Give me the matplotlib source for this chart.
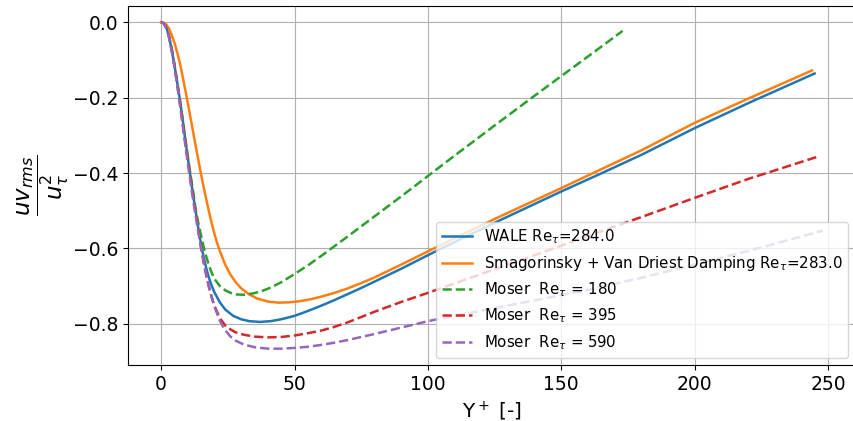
import matplotlib
matplotlib.use("Agg")
import matplotlib.pyplot as plt

# ---- data ----
wale_x = [0, 1, 2, 3, 4, 5, 6, 7, 8, 9, 10, 11, 12, 13, 14, 15, 16, 17, 18, 19, 20,
          22, 24, 27, 30, 33, 37, 41, 45, 50, 55, 60, 65, 70, 75, 80, 90, 100, 110, 125, 150,
          165, 180, 200, 220, 245]
wale_y = [0, -0.003, -0.015, -0.04, -0.075, -0.115, -0.16, -0.205, -0.255, -0.31, -0.36,
          -0.41, -0.46, -0.505, -0.55, -0.59, -0.625, -0.655, -0.68, -0.70, -0.717,
          -0.743, -0.762, -0.779, -0.788, -0.793, -0.795, -0.793, -0.788, -0.779, -0.766,
          -0.752, -0.737, -0.721, -0.705, -0.688, -0.654, -0.618, -0.583, -0.532, -0.449,
          -0.401, -0.352, -0.281, -0.215, -0.136]

smag_x = [0, 1, 2, 3, 4, 5, 6, 7, 8, 9, 10, 11, 12, 13, 14, 15, 16, 17, 18, 19, 20, 21,
          22, 24, 26, 28, 30, 33, 36, 40, 44, 48, 52, 56, 60, 65, 70, 75, 80, 90, 100, 110, 125,
          150, 165, 180, 200, 220, 244]
smag_y = [0, -0.002, -0.007, -0.018, -0.035, -0.055, -0.08, -0.108, -0.142, -0.178, -0.215,
          -0.253, -0.292, -0.33, -0.368, -0.405, -0.44, -0.473, -0.505, -0.535, -0.562,
          -0.586, -0.607, -0.643, -0.670, -0.690, -0.706, -0.722, -0.733, -0.741, -0.744,
          -0.743, -0.740, -0.735, -0.728, -0.718, -0.706, -0.692, -0.677, -0.643, -0.608,
          -0.573, -0.522, -0.440, -0.390, -0.340, -0.267, -0.203, -0.128]

m180_x = [0, 1, 2, 3, 4, 5, 6, 7, 8, 9, 10, 11, 12, 13, 14, 15, 16, 17, 18, 19, 20, 22,
          24, 26, 28, 31, 34, 37, 40, 45, 50, 55, 60, 70, 80, 90, 100, 110, 125, 140, 155,
          165, 173]
m180_y = [0, -0.003, -0.015, -0.038, -0.072, -0.112, -0.157, -0.205, -0.256, -0.307, -0.357,
          -0.405, -0.45, -0.50, -0.535, -0.567, -0.598, -0.624, -0.647, -0.666, -0.681,
          -0.700, -0.711, -0.718, -0.722, -0.723, -0.720, -0.715, -0.707, -0.690, -0.668,
          -0.645, -0.620, -0.568, -0.515, -0.462, -0.408, -0.354, -0.274, -0.195, -0.117,
          -0.065, -0.023]

m395_x = [0, 1, 2, 3, 4, 5, 6, 7, 8, 9, 10, 11, 12, 13, 14, 15, 16, 17, 18, 19, 20, 22,
          24, 26, 28, 31, 35, 40, 45, 50, 55, 60, 65, 70, 75, 80, 90, 100, 120, 140, 160, 180,
          200, 220, 246]
m395_y = [0, -0.003, -0.016, -0.04, -0.075, -0.117, -0.163, -0.212, -0.264, -0.316, -0.367,
          -0.416, -0.463, -0.507, -0.555, -0.60, -0.64, -0.675, -0.705, -0.731, -0.753,
          -0.785, -0.804, -0.815, -0.823, -0.829, -0.834, -0.836, -0.835, -0.831, -0.825,
          -0.818, -0.808, -0.796, -0.782, -0.768, -0.742, -0.718, -0.668, -0.618, -0.567,
          -0.517, -0.466, -0.416, -0.357]

m590_x = [0, 1, 2, 3, 4, 5, 6, 7, 8, 9, 10, 11, 12, 13, 14, 15, 16, 17, 18, 19, 20, 22,
          24, 26, 28, 31, 35, 40, 45, 50, 55, 60, 65, 70, 75, 80, 90, 100, 120, 140, 160, 180,
          200, 220, 248]
m590_y = [0, -0.003, -0.017, -0.042, -0.078, -0.12, -0.167, -0.217, -0.27, -0.323, -0.375,
          -0.425, -0.473, -0.518, -0.56, -0.60, -0.638, -0.672, -0.703, -0.731, -0.755,
          -0.792, -0.817, -0.834, -0.845, -0.855, -0.862, -0.866, -0.866, -0.864, -0.861,
          -0.856, -0.850, -0.843, -0.835, -0.827, -0.810, -0.793, -0.765, -0.738, -0.710,
          -0.678, -0.643, -0.607, -0.553]

labels = [r"WALE Re$_\tau$=284.0",
          r"Smagorinsky + Van Driest Damping Re$_\tau$=283.0",
          r"Moser  Re$_\tau$ = 180",
          r"Moser  Re$_\tau$ = 395",
          r"Moser  Re$_\tau$ = 590"]

xticks = [0, 50, 100, 150, 200, 250]
yticks = [0.0, -0.2, -0.4, -0.6, -0.8]

fig = plt.figure(figsize=(8.54, 4.21), dpi=100)
ax = fig.add_axes([0.150, 0.133, 0.852, 0.853])

ax.plot(wale_x, wale_y, color="#1f77b4", lw=1.8, label=labels[0])
ax.plot(smag_x, smag_y, color="#ff7f0e", lw=1.8, label=labels[1])
ax.plot(m180_x, m180_y, color="#2ca02c", lw=1.8, ls="--", label=labels[2])
ax.plot(m395_x, m395_y, color="#d62728", lw=1.8, ls="--", label=labels[3])
ax.plot(m590_x, m590_y, color="#9467bd", lw=1.8, ls="--", label=labels[4])

ax.set_xticks(xticks)
ax.set_yticks(yticks)
ax.tick_params(labelsize=13.5)
ax.grid(True, color="#b0b0b0", lw=0.8)
ax.set_xlabel(r"Y$^+$ [-]", fontsize=14.5)
ax.set_ylabel(r"$\dfrac{uv_{rms}}{u_\tau^2}$", fontsize=16.5, labelpad=1)
ax.legend(loc="lower right", fontsize=10.8)

fig.savefig("out.png", dpi=100)
